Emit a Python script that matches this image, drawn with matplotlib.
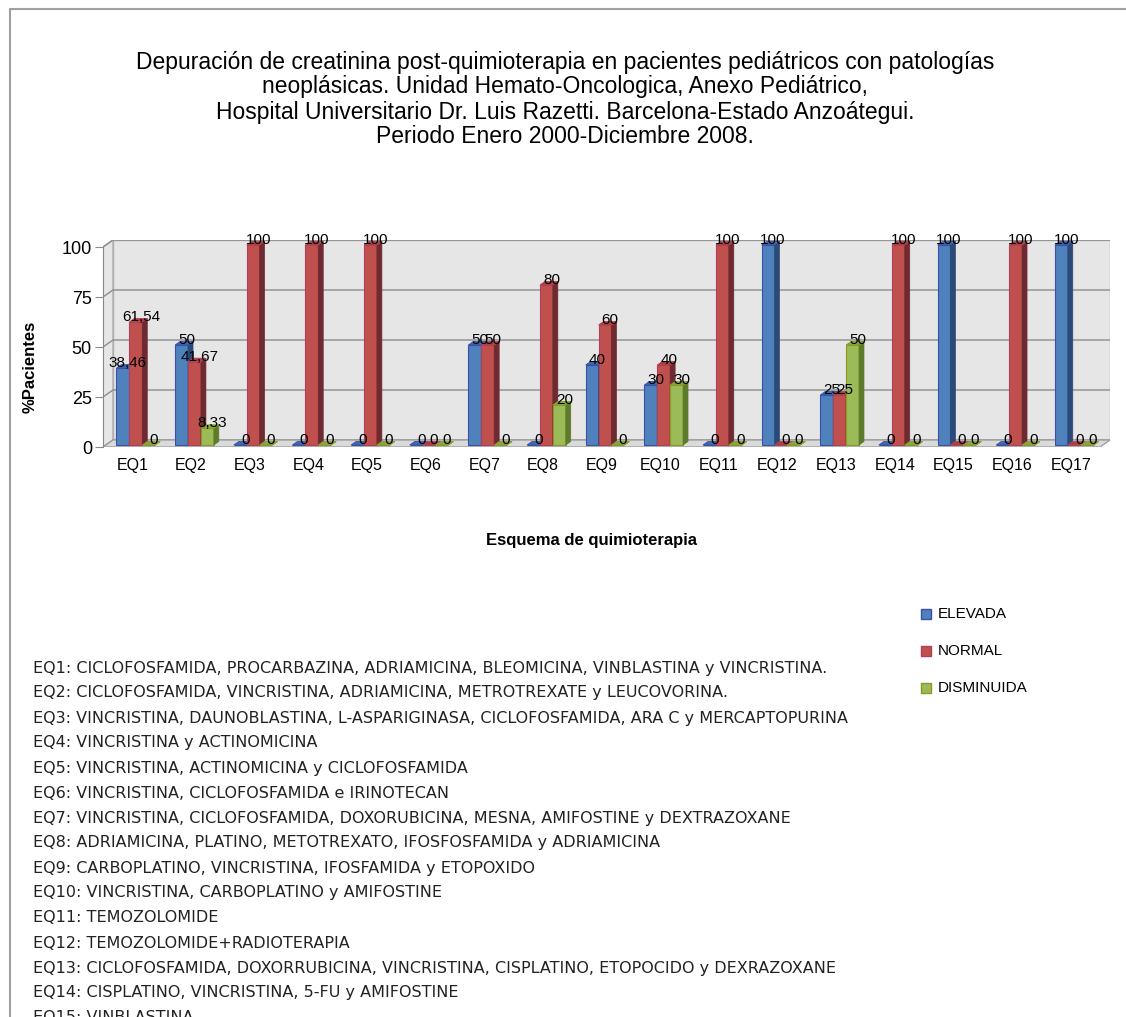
import numpy as np
import matplotlib
matplotlib.use("Agg")
import matplotlib.pyplot as plt
from matplotlib.patches import Polygon, Rectangle
from matplotlib.lines import Line2D

# data
categories = ["EQ%d" % i for i in range(1, 18)]
elevada = [38.46, 50, 0, 0, 0, 0, 50, 0, 40, 30, 0, 100, 25, 0, 100, 0, 100]
normal = [61.54, 41.67, 100, 100, 100, 0, 50, 80, 60, 40, 100, 0, 25, 100, 0, 100, 0]
disminuida = [0, 8.33, 0, 0, 0, 0, 0, 20, 0, 30, 0, 0, 50, 0, 0, 0, 0]
series_names = ["ELEVADA", "NORMAL", "DISMINUIDA"]
yticks = [0, 25, 50, 75, 100]

title_lines = [
    "Depuración de creatinina post-quimioterapia en pacientes pediátricos con patologías",
    "neoplásicas. Unidad Hemato-Oncologica, Anexo Pediátrico,",
    "Hospital Universitario Dr. Luis Razetti. Barcelona-Estado Anzoátegui.",
    "Periodo Enero 2000-Diciembre 2008.",
]
notes = [
    "EQ1: CICLOFOSFAMIDA, PROCARBAZINA, ADRIAMICINA, BLEOMICINA, VINBLASTINA y VINCRISTINA.",
    "EQ2: CICLOFOSFAMIDA, VINCRISTINA, ADRIAMICINA, METROTREXATE y LEUCOVORINA.",
    "EQ3: VINCRISTINA, DAUNOBLASTINA, L-ASPARIGINASA, CICLOFOSFAMIDA, ARA C y MERCAPTOPURINA",
    "EQ4: VINCRISTINA y ACTINOMICINA",
    "EQ5: VINCRISTINA, ACTINOMICINA y CICLOFOSFAMIDA",
    "EQ6: VINCRISTINA, CICLOFOSFAMIDA e IRINOTECAN",
    "EQ7: VINCRISTINA, CICLOFOSFAMIDA, DOXORUBICINA, MESNA, AMIFOSTINE y DEXTRAZOXANE",
    "EQ8: ADRIAMICINA, PLATINO, METOTREXATO, IFOSFOSFAMIDA y ADRIAMICINA",
    "EQ9: CARBOPLATINO, VINCRISTINA, IFOSFAMIDA y ETOPOXIDO",
    "EQ10: VINCRISTINA, CARBOPLATINO y AMIFOSTINE",
    "EQ11: TEMOZOLOMIDE",
    "EQ12: TEMOZOLOMIDE+RADIOTERAPIA",
    "EQ13: CICLOFOSFAMIDA, DOXORRUBICINA, VINCRISTINA, CISPLATINO, ETOPOCIDO y DEXRAZOXANE",
    "EQ14: CISPLATINO, VINCRISTINA, 5-FU y AMIFOSTINE",
    "EQ15: VINBLASTINA",
]

front = ["#4F81BD", "#C0504D", "#9BBB59"]
edges = ["#3A4FA8", "#B0405A", "#8A9A20"]
sides = ["#2B4A78", "#6E2A30", "#5E7A2A"]
tops = ["#3F6AA5", "#A8403E", "#86A548"]

plt.rcParams["font.family"] = ["Liberation Sans", "DejaVu Sans"]

W, H = 1126, 1017
fig = plt.figure(figsize=(W / 100, H / 100), dpi=100)

n = len(categories)
dx, dy = 0.17, 3.5        # depth of the back wall
bdx, bdy = 0.085, 1.75    # depth of each bar
bz = 1.0                  # bars sit a bit behind the front edge
bw = 0.22

left_px, right_px = 103, 103 + (n + dx) * 58.65
ax = fig.add_axes([left_px / W, (H - 447) / H, (right_px - left_px) / W, 207 / H])
ax.set_xlim(0, n + dx)
ax.set_ylim(0, 100 + dy)
ax.set_facecolor("none")
for s in ["top", "right", "bottom"]:
    ax.spines[s].set_visible(False)
ax.spines["left"].set_bounds(0, 100)
ax.spines["left"].set_color("#888888")
ax.set_yticks(yticks)
ax.tick_params(axis="y", length=6, color="#888888", labelsize=13, pad=2)
ax.set_xticks(np.arange(n) + 0.5)
ax.set_xticklabels(categories, fontsize=11.5)
ax.tick_params(axis="x", length=0, pad=8)

# walls and floor
ax.add_patch(Polygon([(dx, dy), (n + dx, dy), (n + dx, 100 + dy), (dx, 100 + dy)],
                     facecolor="#E6E6E6", edgecolor="#B0B0B0", lw=1, zorder=0))
ax.add_patch(Polygon([(0, 0), (dx, dy), (dx, 100 + dy), (0, 100)],
                     facecolor="#E6E6E6", edgecolor="#B0B0B0", lw=1, zorder=0))
ax.add_patch(Polygon([(0, 0), (n, 0), (n + dx, dy), (dx, dy)],
                     facecolor="#DADADA", edgecolor="#A0A0A0", lw=1, zorder=0.5))
for t in yticks:
    ax.plot([0, dx, n + dx], [t, t + dy, t + dy], color="#8C8C8C", lw=1, zorder=0.3)

offsets = [0.34, 0.56, 0.78]
x = np.arange(n)
all_series = [elevada, normal, disminuida]


def fmt(v):
    if float(v).is_integer():
        return str(int(v))
    return ("%.2f" % v).replace(".", ",")


for i in range(n):
    for k, vals in enumerate(all_series):
        v = vals[i]
        xc = x[i] + offsets[k]
        x0, x1 = xc - bw / 2, xc + bw / 2
        zo = 2 + i * 3 + k
        ax.bar(xc, v, bw, bottom=bz, color=front[k], edgecolor=edges[k],
               lw=0.8, zorder=zo)
        ax.add_patch(Polygon([(x1, bz), (x1 + bdx, bz + bdy), (x1 + bdx, bz + v + bdy), (x1, bz + v)],
                             facecolor=sides[k], edgecolor=sides[k], lw=0.5, zorder=zo))
        ax.add_patch(Polygon([(x0, bz + v), (x1, bz + v), (x1 + bdx, bz + v + bdy), (x0 + bdx, bz + v + bdy)],
                             facecolor=tops[k], edgecolor=edges[k], lw=0.6, zorder=zo))

# value labels drawn last so bars do not hide them
for i in range(n):
    for k, vals in enumerate(all_series):
        v = vals[i]
        xc = x[i] + offsets[k] + bdx
        ax.text(xc, v + bz + 2.5, fmt(v), ha="center", va="center", fontsize=11,
                color="black", zorder=100)

# axis titles
fig.text(30 / W, 1 - 367 / H, "%Pacientes", rotation=90, ha="center", va="center",
         fontsize=12, fontweight="bold")
fig.text(592 / W, 1 - 540 / H, "Esquema de quimioterapia", ha="center", va="center",
         fontsize=12, fontweight="bold")

# title
for j, line in enumerate(title_lines):
    fig.text(565 / W, 1 - (62 + 25 * j) / H, line, ha="center", va="center", fontsize=16.5)

# legend
for k, name in enumerate(series_names):
    yc = 614 + 37 * k
    fig.add_artist(Rectangle((921 / W, 1 - (yc + 5) / H), 10 / W, 10 / H,
                             transform=fig.transFigure, facecolor=front[k],
                             edgecolor=edges[k], lw=1))
    fig.text(938 / W, 1 - yc / H, name, ha="left", va="center", fontsize=11)

# list of chemotherapy schemes
for j, line in enumerate(notes):
    fig.text(33 / W, 1 - (668 + 25 * j) / H, line, ha="left", va="center",
             fontsize=11.5, color="#222222", family=["DejaVu Sans"])

# outer frame (cut at the right and bottom)
fig.add_artist(Line2D([10 / W, 10 / W, 1], [0, 1 - 9 / H, 1 - 9 / H],
                      transform=fig.transFigure, color="#A0A0A0", lw=1.5))

fig.savefig("out.png", dpi=100)
